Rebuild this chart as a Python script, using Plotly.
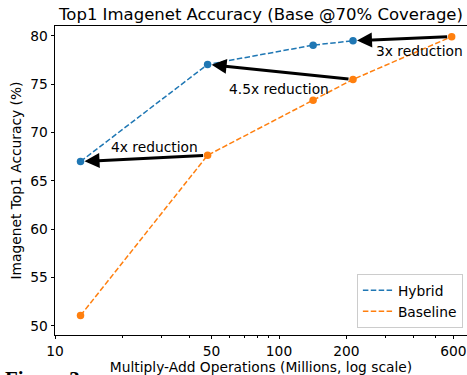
import numpy as np
import plotly.graph_objects as go

# ---- data ----
hybrid_x = [13, 48, 142, 214]
hybrid_y = [67.0, 77.05, 79.05, 79.5]
baseline_x = [13, 48, 142, 214, 590]
baseline_y = [51.05, 67.65, 73.35, 75.5, 79.93]

# arrows: (from baseline index, to hybrid index)
arrow_pairs = [(4, 3), (3, 1), (1, 0)]
labels = ["3x reduction", "4.5x reduction", "4x reduction"]
label_x = [422, 100, 27.9]
label_y = [78.45, 74.5, 68.5]

x_major = [10, 50, 100, 200, 600]
x_minor = [20, 30, 40, 60, 70, 80, 90, 300, 400, 500]
y_ticks = [50, 55, 60, 65, 70, 75, 80]

BLUE = "#1f77b4"
ORANGE = "#ff7f0e"
FONT = "DejaVu Sans"
FS = 13.8

fig = go.Figure()
fig.add_trace(go.Scatter(x=hybrid_x, y=hybrid_y, mode="lines", name="Hybrid",
                         line=dict(color=BLUE, width=1.5, dash="5.5px,2.4px")))
fig.add_trace(go.Scatter(x=baseline_x, y=baseline_y, mode="lines", name="Baseline",
                         line=dict(color=ORANGE, width=1.5, dash="5.5px,2.4px")))
fig.add_trace(go.Scatter(x=hybrid_x, y=hybrid_y, mode="markers", showlegend=False,
                         marker=dict(color=BLUE, size=7.5)))
fig.add_trace(go.Scatter(x=baseline_x, y=baseline_y, mode="markers", showlegend=False,
                         marker=dict(color=ORANGE, size=7.5)))

annotations = []
for (bi, hi) in arrow_pairs:
    annotations.append(dict(
        x=np.log10(hybrid_x[hi]), y=hybrid_y[hi],
        ax=np.log10(baseline_x[bi]), ay=baseline_y[bi],
        xref="x", yref="y", axref="x", ayref="y",
        showarrow=True, arrowhead=2, arrowsize=1.0, arrowwidth=3,
        arrowcolor="black", standoff=4, startstandoff=3, text=""))
for t, lx, ly in zip(labels, label_x, label_y):
    annotations.append(dict(x=np.log10(lx), y=ly, xref="x", yref="y", text=t,
                            showarrow=False, font=dict(family=FONT, size=FS, color="black"),
                            xanchor="center", yanchor="middle"))
annotations.append(dict(x=(3 - 55) / 412, y=(335 - 365) / 309, xref="paper", yref="paper",
                        text="<b>Figure 3:</b>", showarrow=False, xanchor="left", yanchor="top",
                        font=dict(family="Liberation Serif", size=21, color="black")))

fig.update_layout(
    width=467, height=375,
    margin=dict(l=55, r=0, t=26, b=40),
    paper_bgcolor="white", plot_bgcolor="white",
    font=dict(family=FONT, size=FS, color="black"),
    title=dict(text="Top1 Imagenet Accuracy (Base @70% Coverage)", x=261 / 467, xanchor="center",
               y=1 - 14 / 375, yanchor="middle", yref="container",
               font=dict(family=FONT, size=16.5, color="black")),
    showlegend=True,
    legend=dict(x=0.99, y=0.023, xanchor="right", yanchor="bottom",
                bgcolor="rgba(255,255,255,0.8)", bordercolor="#cccccc", borderwidth=1,
                font=dict(family=FONT, size=FS, color="black"), tracegroupgap=2,
                itemwidth=30),
    annotations=annotations,
)

fig.update_xaxes(type="log", range=[1, 2 + (467 - 279) / 224],
                 tickvals=x_major, ticktext=[str(v) for v in x_major],
                 ticks="outside", ticklen=3.5, tickwidth=0.8, tickcolor="black",
                 minor=dict(tickvals=x_minor, ticks="outside", ticklen=2, tickwidth=0.6,
                            tickcolor="black", showgrid=False),
                 showline=True, linecolor="black", linewidth=0.8, mirror=True,
                 showgrid=False, zeroline=False,
                 tickfont=dict(family=FONT, size=FS),
                 title=dict(text="Multiply-Add Operations (Millions, log scale)", standoff=2,
                            font=dict(family=FONT, size=FS)))
fig.update_yaxes(range=[49.04, 81.03], tickvals=y_ticks,
                 ticks="outside", ticklen=3.5, tickwidth=0.8, tickcolor="black",
                 showline=True, linecolor="black", linewidth=0.8,
                 showgrid=False, zeroline=False,
                 tickfont=dict(family=FONT, size=FS),
                 title=dict(text="Imagenet Top1 Accuracy (%)", standoff=5,
                            font=dict(family=FONT, size=FS)))

fig.write_html("out.html")
